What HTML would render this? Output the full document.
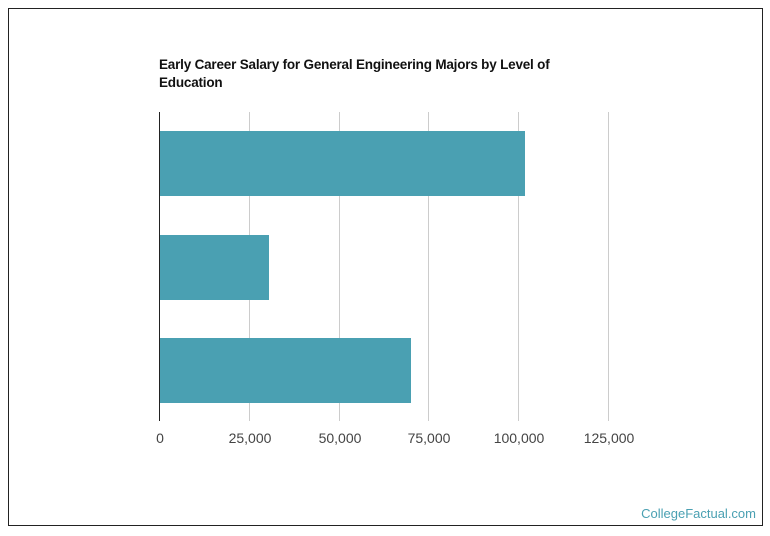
<!DOCTYPE html>
<html><head><style>
body{margin:0;width:770px;height:536px;background:#fff;font-family:"Liberation Sans",sans-serif;position:relative;overflow:hidden}
.box{position:absolute;left:8px;top:8px;width:753px;height:516px;border:1px solid #222}
.t{position:absolute;left:159px;top:56px;font-weight:bold;font-size:13.5px;letter-spacing:-0.2px;line-height:18px;color:#111;width:410px}
.g{position:absolute;top:112px;height:309px;width:1px;background:#ccc}
.b{position:absolute;left:159px;height:65px;background:#4aa0b2}
.l{position:absolute;top:430px;font-size:14px;color:#444;transform:translateX(-50%)}
.cf{position:absolute;right:14px;top:506px;font-size:13px;color:#4aa0b2}
</style></head><body>
<div class="box"></div>
<div class="t">Early Career Salary for General Engineering Majors by Level of Education</div>
<div class="g" style="left:249px"></div><div class="g" style="left:339px"></div><div class="g" style="left:428px"></div><div class="g" style="left:518px"></div><div class="g" style="left:608px"></div>
<div class="b" style="top:131px;width:366px"></div>
<div class="b" style="top:235px;width:110px"></div>
<div class="b" style="top:338px;width:252px"></div>
<div class="g" style="left:159px;background:#222"></div>
<div class="l" style="left:160px">0</div><div class="l" style="left:250px">25,000</div><div class="l" style="left:340px">50,000</div><div class="l" style="left:429px">75,000</div><div class="l" style="left:519px">100,000</div><div class="l" style="left:609px">125,000</div>
<div class="cf">CollegeFactual.com</div>
</body></html>
